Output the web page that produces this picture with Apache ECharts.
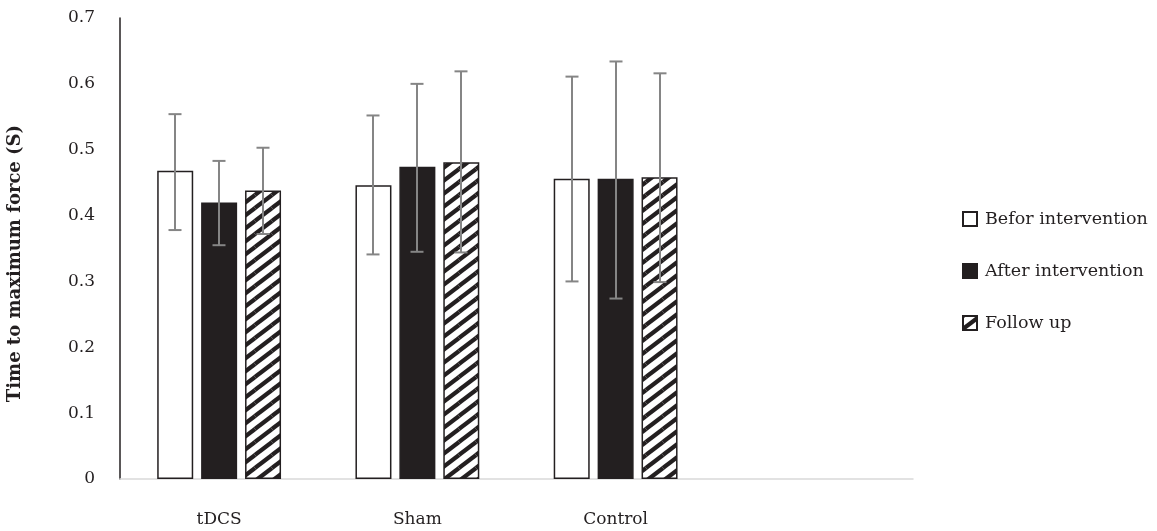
<!DOCTYPE html>
<html>
<head>
<meta charset="utf-8">
<script src="https://cdn.jsdelivr.net/npm/echarts@6/dist/echarts.min.js"></script>
<style>
html,body{margin:0;padding:0;background:#fff;}
#chart{width:1157px;height:531px;}
</style>
</head>
<body>
<div id="chart"></div>
<script>
// ---- data ----
const categories = ['tDCS', 'Sham', 'Control', ''];
const seriesNames = ['Befor intervention', 'After intervention', 'Follow up'];
const beforeValues = [0.468, 0.446, 0.456];
const afterValues  = [0.420, 0.474, 0.456];
const followValues = [0.438, 0.481, 0.458];
const beforeLow  = [0.378, 0.341, 0.300];
const beforeHigh = [0.554, 0.552, 0.611];
const afterLow   = [0.355, 0.345, 0.274];
const afterHigh  = [0.483, 0.600, 0.634];
const followLow  = [0.372, 0.344, 0.299];
const followHigh = [0.503, 0.619, 0.616];
const yTicks = [0, 0.1, 0.2, 0.3, 0.4, 0.5, 0.6, 0.7];

// ---- hatch pattern ----
function makeHatch() {
  const W = 17, H = 13;
  const c = document.createElement('canvas');
  c.width = W; c.height = H;
  const g = c.getContext('2d');
  g.fillStyle = '#ffffff';
  g.fillRect(0, 0, W, H);
  g.strokeStyle = '#231f20';
  g.lineWidth = 4.2;
  for (let dx = -W; dx <= W; dx += W) {
    for (let dy = -H; dy <= H; dy += H) {
      g.beginPath();
      g.moveTo(dx, H + dy);
      g.lineTo(W + dx, dy);
      g.stroke();
    }
  }
  return c;
}
const hatch = { image: makeHatch(), repeat: 'repeat' };

const BAR_W = 36;
const BAR_GAP = 0.22;
const FONT = '"DejaVu Serif", serif';
const INK = '#231f20';

function errSeries(idx, low, high) {
  return {
    type: 'custom',
    z: 5,
    silent: true,
    data: low.map((l, i) => [i, l, high[i]]),
    renderItem: function (params, api) {
      const offset = (idx - 1) * BAR_W * (1 + BAR_GAP);
      const pLow = api.coord([api.value(0), api.value(1)]);
      const pHigh = api.coord([api.value(0), api.value(2)]);
      const x = Math.round(pLow[0] + offset);
      const cap = 6.5;
      const style = { stroke: '#858585', lineWidth: 2, fill: null };
      return {
        type: 'group',
        children: [
          { type: 'line', shape: { x1: x, y1: pLow[1], x2: x, y2: pHigh[1] }, style: style },
          { type: 'line', shape: { x1: x - cap, y1: pLow[1], x2: x + cap, y2: pLow[1] }, style: style },
          { type: 'line', shape: { x1: x - cap, y1: pHigh[1], x2: x + cap, y2: pHigh[1] }, style: style }
        ]
      };
    }
  };
}

const chart = echarts.init(document.getElementById('chart'));
chart.setOption({
  animation: false,
  backgroundColor: '#ffffff',
  grid: { left: 120, right: 244, top: 18, bottom: 52, containLabel: false, outerBoundsMode: 'none' },
  legend: {
    data: seriesNames,
    orient: 'vertical',
    left: 957,
    top: 204,
    itemWidth: 14,
    itemHeight: 14,
    itemGap: 32,
    icon: 'rect',
    textStyle: { fontFamily: FONT, fontSize: 17.5, lineHeight: 20, color: INK, padding: [0, 0, 0, 3] }
  },
  xAxis: {
    type: 'category',
    data: categories,
    axisLine: { lineStyle: { color: '#d9d9d9', width: 1.5 } },
    axisTick: { show: false },
    axisLabel: { margin: 32, fontFamily: FONT, fontSize: 17, color: INK }
  },
  yAxis: {
    type: 'value',
    min: 0,
    max: 0.7,
    interval: 0.1,
    name: 'Time to maximum force (S)',
    nameLocation: 'middle',
    nameRotate: 90,
    nameGap: 96,
    nameTextStyle: { fontFamily: FONT, fontSize: 18, fontWeight: 'bold', color: INK, padding: [0, 0, 0, -30] },
    axisLine: { show: true, lineStyle: { color: INK, width: 1.5 } },
    axisTick: { show: false },
    splitLine: { show: false },
    axisLabel: {
      margin: 25,
      fontFamily: FONT,
      fontSize: 17,
      color: INK,
      formatter: function (v) {
        const t = yTicks.find(k => Math.abs(k - v) < 1e-9);
        return t === undefined ? '' : String(t);
      }
    }
  },
  series: [
    {
      name: seriesNames[0], type: 'bar', data: beforeValues,
      barWidth: BAR_W, barGap: (BAR_GAP * 100) + '%',
      itemStyle: { color: '#ffffff', borderColor: INK, borderWidth: 1.5 }
    },
    {
      name: seriesNames[1], type: 'bar', data: afterValues,
      barWidth: BAR_W, barGap: (BAR_GAP * 100) + '%',
      itemStyle: { color: INK, borderColor: INK, borderWidth: 1.5 }
    },
    {
      name: seriesNames[2], type: 'bar', data: followValues,
      barWidth: BAR_W, barGap: (BAR_GAP * 100) + '%',
      itemStyle: { color: hatch, borderColor: INK, borderWidth: 1.5 }
    },
    errSeries(0, beforeLow, beforeHigh),
    errSeries(1, afterLow, afterHigh),
    errSeries(2, followLow, followHigh)
  ]
});
</script>
</body>
</html>
